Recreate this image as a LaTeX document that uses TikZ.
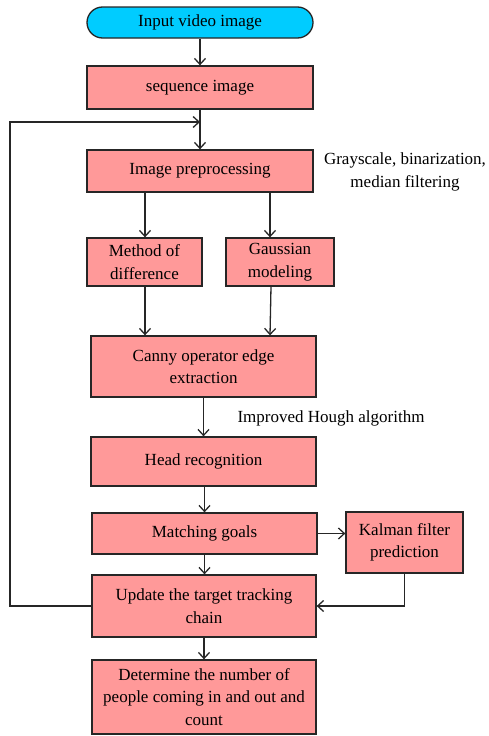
\documentclass[tikz,border=0pt]{standalone}
\usepackage{fontspec}
\setmainfont{Liberation Serif}
\usetikzlibrary{arrows.meta,calc}
\definecolor{boxpink}{RGB}{255,153,153}
\definecolor{boxcyan}{RGB}{0,204,255}
\begin{document}
\begin{tikzpicture}[x=1pt,y=-1pt,
  every node/.style={font=\fontsize{17}{22.5}\selectfont, inner sep=0pt},
  box/.style={draw=black!85, line width=1.3pt, fill=boxpink, align=center},
  startbox/.style={draw=black!85, line width=1.3pt, fill=boxcyan, rounded corners=15.5pt, align=center},
  arr/.style={draw=black!85, line width=1.3pt, -{Straight Barb[length=6pt,width=11pt]}},
  lbl/.style={align=center}
]
\useasboundingbox (0,0) rectangle (488,736);
\node[startbox, minimum width=226pt, minimum height=31pt] (inp) at (200,22.5) {Input video image};
\node[box, minimum width=226pt, minimum height=43pt] (seq) at (200,87.5) {sequence image};
\node[box, minimum width=226pt, minimum height=42pt] (pre) at (200,171) {Image preprocessing};
\node[box, minimum width=115pt, minimum height=48pt] (meth) at (144.5,262) {Method of\\difference};
\node[box, minimum width=108pt, minimum height=48pt] (gaus) at (280,262) {Gaussian\\modeling};
\node[box, minimum width=225pt, minimum height=61pt] (canny) at (203.5,366.5) {Canny operator edge\\extraction};
\node[box, minimum width=225pt, minimum height=49pt] (head) at (203.5,461.5) {Head recognition};
\node[box, minimum width=225pt, minimum height=41pt] (match) at (204.5,533.5) {Matching goals};
\node[box, minimum width=117pt, minimum height=61pt] (kal) at (404.5,542.5) {Kalman filter\\prediction};
\node[box, minimum width=224pt, minimum height=62pt] (upd) at (204,606) {Update the target tracking\\chain};
\node[box, minimum width=224pt, minimum height=74pt] (det) at (204,697) {Determine the number of\\people coming in and out and\\count};

\node[lbl] (gray) at (405,172) {Grayscale, binarization,\\median filtering};
\node[lbl] (hough) at (331,418) {Improved Hough algorithm};

\coordinate (gtop) at ([xshift=-10pt]gaus.north);
\coordinate (mtop) at ([xshift=0.5pt]meth.north);
\coordinate (loopin) at (200,122);
\coordinate (loopl1) at (10,606);
\coordinate (loopl2) at (10,122);
\coordinate (kalturn) at (kal.south |- upd.east);

\draw[arr] (inp) -- (seq);
\draw[arr] (seq) -- (pre);
\draw[arr] (pre.south -| mtop) -- (mtop);
\draw[arr] (pre.south -| gtop) -- (gtop);
\draw[arr] (meth.south -| mtop) -- (canny.north -| mtop);
\draw[arr] ([xshift=-9pt]gaus.south) -- (canny.north -| gtop);
\draw[arr] (canny.south -| head.north) -- (head.north);
\draw[arr] (head.south -| match.north) -- (match.north);
\draw[arr] (match.east) -- (kal.west |- match.east);
\draw[arr] (match.south) -- (upd.north -| match.south);
\draw[arr] (upd) -- (det);
\draw[arr] (kal.south) -- (kalturn) -- (upd.east);
\draw[arr] (upd.west) -- (loopl1) -- (loopl2) -- (loopin);
\end{tikzpicture}
\end{document}
